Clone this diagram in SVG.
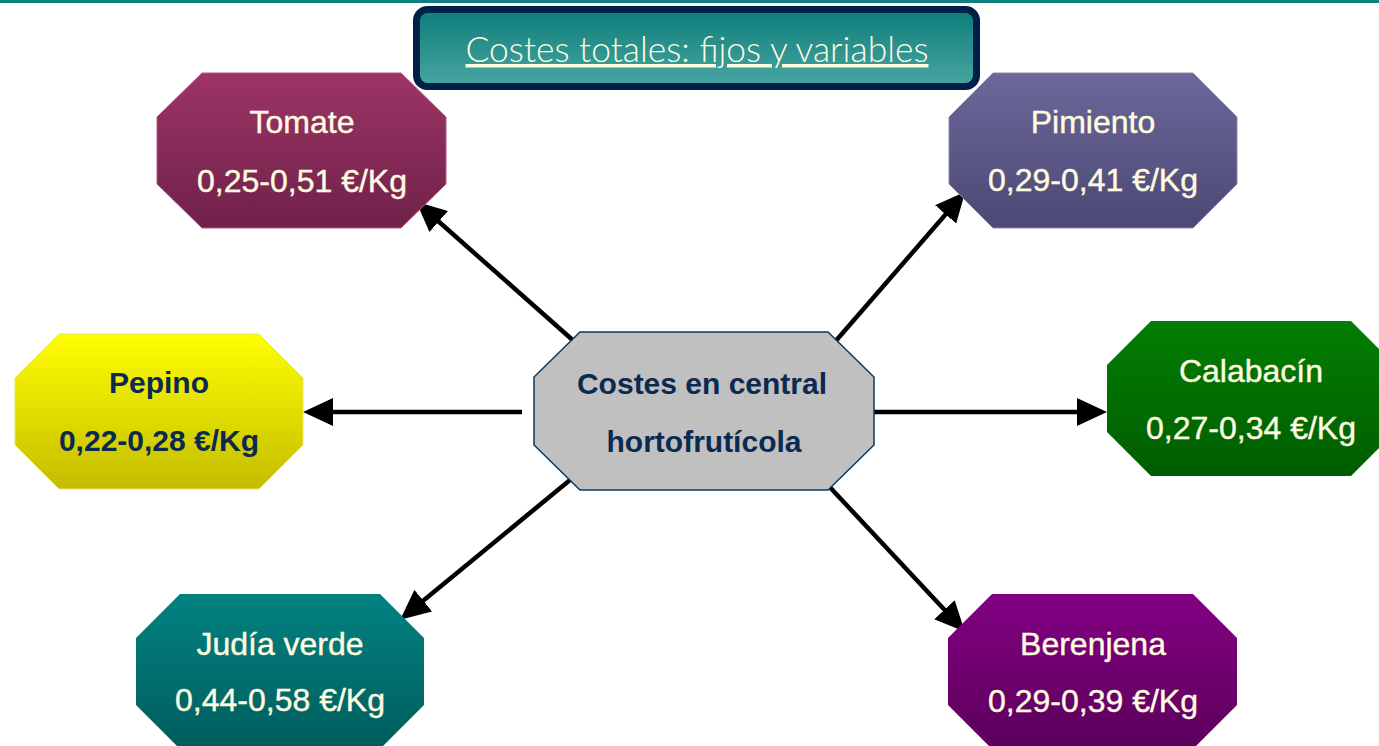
<svg xmlns="http://www.w3.org/2000/svg" width="1379" height="746" viewBox="0 0 1379 746">
<style>
.lbl{font-family:"Liberation Sans",Arial,sans-serif;font-size:32px;fill:#fffbe0;stroke:#fffbe0;stroke-width:0.4;text-anchor:middle}
.dark{font-weight:bold;font-size:30px;fill:#0a2a50;stroke:none}
.conn line{stroke:#000;stroke-width:4.5;marker-end:url(#ah)}
</style>
<defs>
<marker id="ah" markerUnits="userSpaceOnUse" markerWidth="31" markerHeight="28" refX="25" refY="14" orient="auto">
<path d="M0,0 L30,14 L0,28 z" fill="#000"/>
</marker>
<linearGradient id="gTom" x1="0" y1="0" x2="0" y2="1"><stop offset="0" stop-color="#9d3466"/><stop offset="1" stop-color="#6f2149"/></linearGradient>
<linearGradient id="gPim" x1="0" y1="0" x2="0" y2="1"><stop offset="0" stop-color="#6b689b"/><stop offset="1" stop-color="#4c4874"/></linearGradient>
<linearGradient id="gPep" x1="0" y1="0" x2="0" y2="1"><stop offset="0" stop-color="#ffff00"/><stop offset="1" stop-color="#c4bc00"/></linearGradient>
<linearGradient id="gCal" x1="0" y1="0" x2="0" y2="1"><stop offset="0" stop-color="#037e03"/><stop offset="1" stop-color="#005d00"/></linearGradient>
<linearGradient id="gJud" x1="0" y1="0" x2="0" y2="1"><stop offset="0" stop-color="#038282"/><stop offset="1" stop-color="#005c5c"/></linearGradient>
<linearGradient id="gBer" x1="0" y1="0" x2="0" y2="1"><stop offset="0" stop-color="#820082"/><stop offset="1" stop-color="#5c005c"/></linearGradient>
<linearGradient id="gTit" x1="0" y1="0" x2="0" y2="1"><stop offset="0" stop-color="#0d7d7b"/><stop offset="1" stop-color="#4aa6a2"/></linearGradient>
</defs>
<rect x="0" y="0" width="1379" height="3" fill="#0f7f7f"/>
<g id="title">
<rect x="416.5" y="9.5" width="560" height="77" rx="11" fill="url(#gTit)" stroke="#002147" stroke-width="7"/>
<text x="697" y="62" font-family="Lato,'Open Sans',sans-serif" font-weight="300" font-size="35" fill="#fffde0" text-anchor="middle" text-decoration="underline" textLength="463" lengthAdjust="spacingAndGlyphs">Costes totales: fijos y variables</text>
</g>
<g class="conn" id="connectors">
<line x1="576" y1="343" x2="420" y2="205"/>
<line x1="834" y1="343" x2="962" y2="195.5"/>
<line x1="522" y1="412" x2="308" y2="412"/>
<line x1="872" y1="412" x2="1102" y2="412"/>
<line x1="570" y1="480" x2="404" y2="616.5"/>
<line x1="825" y1="482" x2="961.5" y2="628"/>
</g>
<g id="tomate">
<path d="M202,73 H401 L446,117 V184 L401,228 H202 L157,184 V117 Z" fill="url(#gTom)" stroke="#b05a85" stroke-width="1"/>
<text class="lbl" x="302" y="133">Tomate</text>
<text class="lbl" x="302" y="192">0,25-0,51 €/Kg</text>
</g>
<g id="pimiento">
<path d="M993,73 H1193 L1237,117 V184 L1193,228 H993 L949,184 V117 Z" fill="url(#gPim)" stroke="#8a88b0" stroke-width="1"/>
<text class="lbl" x="1093" y="133">Pimiento</text>
<text class="lbl" x="1093" y="191">0,29-0,41 €/Kg</text>
</g>
<g id="pepino">
<path d="M59,334 H259 L303,378 V445 L259,489 H59 L15,445 V378 Z" fill="url(#gPep)" stroke="#e8e860" stroke-width="1"/>
<text class="lbl dark" x="159" y="393">Pepino</text>
<text class="lbl dark" x="159" y="451">0,22-0,28 €/Kg</text>
</g>
<g id="calabacin">
<path d="M1151,321 H1351 L1395,365 V432 L1351,476 H1151 L1107,432 V365 Z" fill="url(#gCal)"/>
<text class="lbl" x="1251" y="382">Calabacín</text>
<text class="lbl" x="1251" y="439">0,27-0,34 €/Kg</text>
</g>
<g id="judia">
<path d="M180,594 H380 L424,638 V705 L380,749 H180 L136,705 V638 Z" fill="url(#gJud)"/>
<text class="lbl" x="280" y="655">Judía verde</text>
<text class="lbl" x="280" y="711">0,44-0,58 €/Kg</text>
</g>
<g id="berenjena">
<path d="M992,594 H1193 L1237,638 V705 L1193,749 H992 L948,705 V638 Z" fill="url(#gBer)"/>
<text class="lbl" x="1093" y="655">Berenjena</text>
<text class="lbl" x="1093" y="712">0,29-0,39 €/Kg</text>
</g>
<g id="central">
<path d="M580,332 H828 L874,377 V445 L828,490 H580 L534,445 V377 Z" fill="#c0c0c0" stroke="#0d3a5c" stroke-width="1.5"/>
<text class="lbl dark" x="702" y="394">Costes en central</text>
<text class="lbl dark" x="704" y="452">hortofrutícola</text>
</g>
</svg>
